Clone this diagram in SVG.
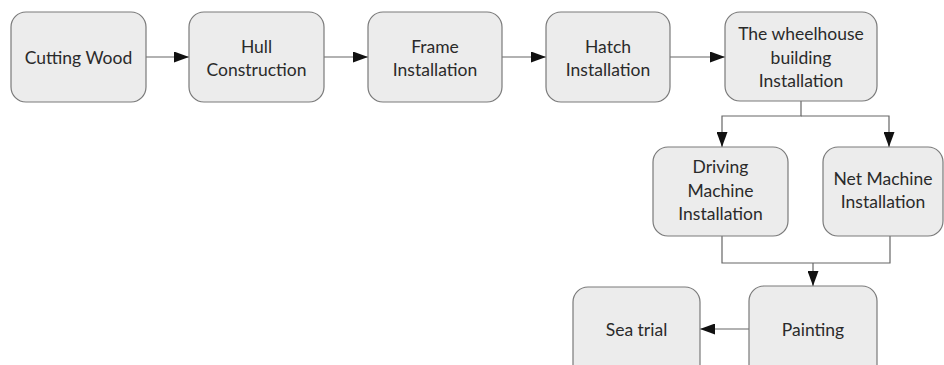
<svg xmlns="http://www.w3.org/2000/svg" width="944" height="365" viewBox="0 0 944 365">
<style>
.n rect{fill:#ececec;stroke:#7a7a7a;stroke-width:1.2}
.n text{font-family:Lato,"Open Sans",sans-serif;font-size:17.5px;fill:#2a2a2a;text-anchor:middle;dominant-baseline:central}
.c path{fill:none;stroke:#666;stroke-width:1.2}
</style>
<defs>
<marker id="ah" viewBox="0 0 15 11" refX="15" refY="5.5" markerWidth="15" markerHeight="11" markerUnits="userSpaceOnUse" orient="auto">
<path d="M0,0 L15,5.5 L0,11 Z" fill="#111"/>
</marker>
</defs>
<rect width="944" height="365" fill="#fff"/>
<g class="c">
<path d="M146,57 H189" marker-end="url(#ah)"/>
<path d="M324,57 H368" marker-end="url(#ah)"/>
<path d="M502,57 H546" marker-end="url(#ah)"/>
<path d="M670,57 H725" marker-end="url(#ah)"/>
<path d="M801,101 V116 H722 V147" marker-end="url(#ah)"/>
<path d="M801,116 H889 V147" marker-end="url(#ah)"/>
<path d="M722,236 V263 H890 V236"/>
<path d="M813,263 V286" marker-end="url(#ah)"/>
<path d="M749,329 H700" marker-end="url(#ah)"/>
</g>
<g class="n" id="cutting-wood"><rect x="11" y="12" width="135" height="90" rx="15"/><text x="78.5" y="57">Cutting Wood</text></g>
<g class="n" id="hull-construction"><rect x="189" y="12" width="135" height="90" rx="15"/><text x="256.5" y="46">Hull</text><text x="256.5" y="69">Construction</text></g>
<g class="n" id="frame-installation"><rect x="368" y="12" width="134" height="90" rx="15"/><text x="435" y="46">Frame</text><text x="435" y="69">Installation</text></g>
<g class="n" id="hatch-installation"><rect x="546" y="12" width="124" height="90" rx="15"/><text x="608" y="46">Hatch</text><text x="608" y="69">Installation</text></g>
<g class="n" id="wheelhouse"><rect x="725" y="12" width="152" height="89" rx="15"/><text x="801" y="33">The wheelhouse</text><text x="801" y="57">building</text><text x="801" y="80">Installation</text></g>
<g class="n" id="driving-machine"><rect x="653" y="147" width="135" height="89" rx="15"/><text x="720.5" y="166">Driving</text><text x="720.5" y="190">Machine</text><text x="720.5" y="213">Installation</text></g>
<g class="n" id="net-machine"><rect x="823" y="147" width="120" height="89" rx="15"/><text x="883" y="178">Net Machine</text><text x="883" y="201">Installation</text></g>
<g class="n" id="painting"><rect x="749" y="286" width="128" height="95" rx="15"/><text x="813" y="329">Painting</text></g>
<g class="n" id="sea-trial"><rect x="573" y="287" width="127" height="95" rx="15"/><text x="636.5" y="329">Sea trial</text></g>
</svg>
